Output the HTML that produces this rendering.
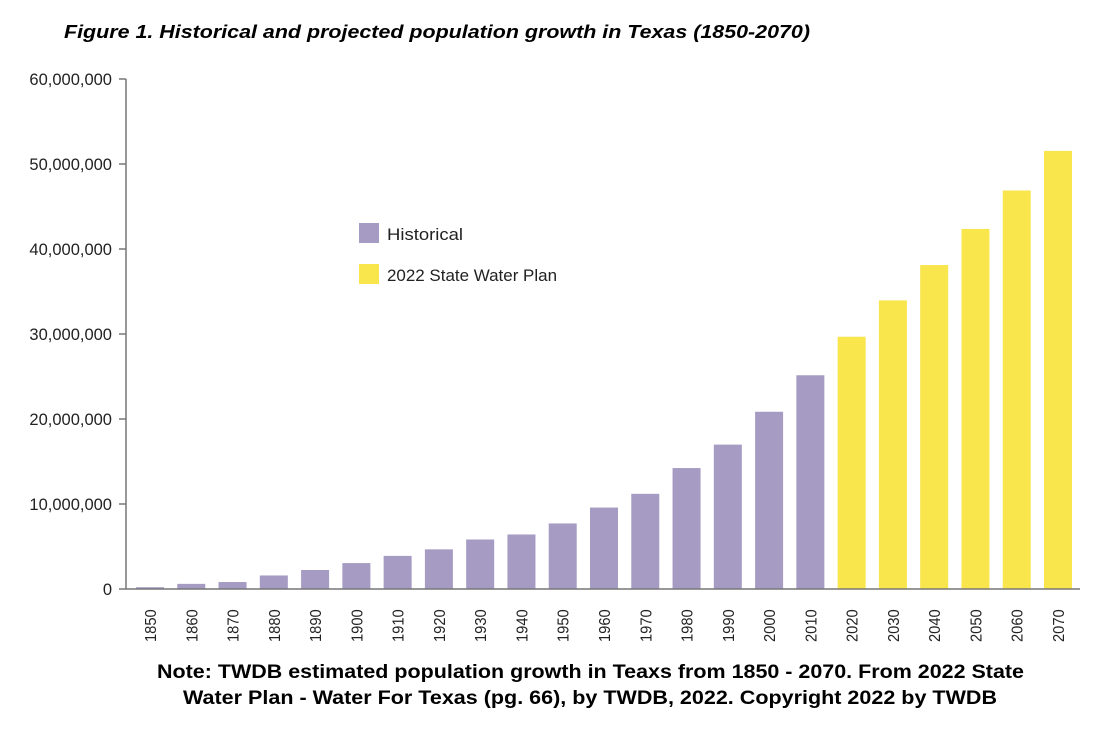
<!DOCTYPE html>
<html><head><meta charset="utf-8"><style>
body{margin:0;background:#fff;width:1116px;height:742px;overflow:hidden;font-family:"Liberation Sans",sans-serif}
svg{position:absolute;left:0;top:0}
</style></head><body>
<svg width="1116" height="742">
<text x="64" y="38" font-size="18.5" font-weight="bold" font-style="italic" fill="#000" textLength="746" lengthAdjust="spacingAndGlyphs">Figure 1. Historical and projected population growth in Texas (1850-2070)</text>
<g id="axes"></g>
<g id="bars"></g>
<g>
<rect x="359" y="223" width="20" height="20" fill="#a59bc3"/>
<text x="387" y="240" font-size="16.5" fill="#222" textLength="76" lengthAdjust="spacingAndGlyphs">Historical</text>
<rect x="359" y="264" width="20" height="20" fill="#f9e54c"/>
<text x="387" y="281" font-size="16.5" fill="#222" textLength="170" lengthAdjust="spacingAndGlyphs">2022 State Water Plan</text>
</g>
<text x="157" y="678" font-size="19" font-weight="bold" textLength="867" lengthAdjust="spacingAndGlyphs">Note: TWDB estimated population growth in Teaxs from 1850 - 2070. From 2022 State</text>
<text x="183" y="704" font-size="19" font-weight="bold" textLength="814" lengthAdjust="spacingAndGlyphs">Water Plan - Water For Texas (pg. 66), by TWDB, 2022. Copyright 2022 by TWDB</text>
</svg>
<script>
const years=["1850","1860","1870","1880","1890","1900","1910","1920","1930","1940","1950","1960","1970","1980","1990","2000","2010","2020","2030","2040","2050","2060","2070"];
const population=[212592,604215,818579,1591749,2235527,3048710,3896542,4663228,5824715,6414824,7711194,9579677,11196730,14229191,16986510,20851820,25145561,29677772,33952383,38112036,42358440,46880913,51539499];
const projected=[0,0,0,0,0,0,0,0,0,0,0,0,0,0,0,0,0,1,1,1,1,1,1];
const yTicks=[0,10000000,20000000,30000000,40000000,50000000,60000000];
const yTickLabels=["0","10,000,000","20,000,000","30,000,000","40,000,000","50,000,000","60,000,000"];
const NS="http://www.w3.org/2000/svg";
const y0=589,yTop=79,yMax=60000000;
const yScale=v=>y0-(v/yMax)*(y0-yTop);
const x0=150,step=(1058-150)/22;
const xScale=i=>x0+i*step;
const bw=28;
const axes=document.getElementById('axes'),bars=document.getElementById('bars');
function mk(t,a,p){const e=document.createElementNS(NS,t);for(const k in a)e.setAttribute(k,a[k]);p.appendChild(e);return e;}
yTicks.forEach((v,i)=>{
 const y=yScale(v);
 const tk=mk('line',{x1:119,x2:126,y1:y,y2:y,stroke:'#777','stroke-width':1.5},axes);
 
 
 const t=mk('text',{x:112,y:y+6,'font-size':16.5,'text-anchor':'end',fill:'#222'},axes);
 t.textContent=yTickLabels[i];
 
 
});
const ya=mk('line',{x1:126,x2:126,y1:yTop,y2:y0,stroke:'#777','stroke-width':1.5},axes);


years.forEach((yr,i)=>{
 const cx=xScale(i),top=yScale(population[i]);
 const r=mk('rect',{x:cx-bw/2,y:top,width:bw,height:y0-top,fill:projected[i]?'#f9e54c':'#a59bc3'},bars);
 
 
 const t=mk('text',{x:0,y:0,'font-size':16,fill:'#222',transform:`translate(${cx+6} 642) rotate(-90) scale(0.92 1)`},axes);
 t.textContent=yr;
 
 
});
const xa=mk('line',{x1:126,x2:1080,y1:y0,y2:y0,stroke:'#777','stroke-width':1.5},bars);


</script>
</body></html>
